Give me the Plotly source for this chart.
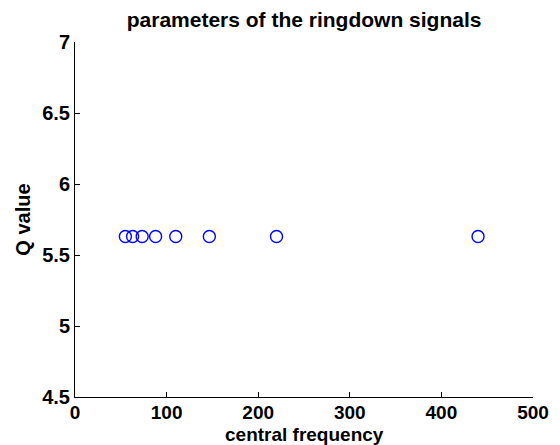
import plotly.graph_objects as go

# Ringdown signal parameters: central frequencies (harmonic series of 440) and Q values
central_frequency = [440.0, 220.0, 146.67, 110.0, 88.0, 73.33, 62.86, 55.0]
q_value = [5.63, 5.63, 5.63, 5.63, 5.63, 5.63, 5.63, 5.63]

x_ticks = [0, 100, 200, 300, 400, 500]
y_ticks = [4.5, 5, 5.5, 6, 6.5, 7]

font_family = "Liberation Sans, Arial, Helvetica, sans-serif"

fig = go.Figure(
    go.Scatter(
        x=central_frequency,
        y=q_value,
        mode="markers",
        marker=dict(
            symbol="circle-open",
            size=12,
            color="#0000ff",
            line=dict(width=1.4, color="#0000ff"),
        ),
        showlegend=False,
    )
)

axis_common = dict(
    showgrid=False,
    zeroline=False,
    showline=True,
    linecolor="black",
    linewidth=1,
    ticks="inside",
    ticklen=5,
    tickwidth=1,
    tickcolor="black",
    tickfont=dict(family=font_family, size=20, color="black", weight="bold"),
    mirror=False,
    automargin=False,
)

fig.update_xaxes(
    range=[0, 500],
    tickvals=x_ticks,
    ticktext=[str(v) for v in x_ticks],
    ticklabelstandoff=-2,
    **{**axis_common, "tickfont": dict(family=font_family, size=19, color="black", weight="bold")},
)
fig.update_yaxes(
    range=[4.5, 7],
    tickvals=y_ticks,
    ticktext=["4.5", "5", "5.5", "6", "6.5", "7"],
    ticklabelstandoff=0,
    title=dict(
        text="<b>Q value</b>",
        font=dict(family=font_family, size=20, color="black"),
        standoff=6,
    ),
    **axis_common,
)

# x-axis title placed as an annotation so it sits tight under the tick labels
fig.add_annotation(
    text="<b>central frequency</b>",
    xref="x domain",
    yref="paper",
    x=0.5,
    y=0,
    xanchor="center",
    yanchor="bottom",
    yshift=-49,
    showarrow=False,
    borderpad=0,
    font=dict(family=font_family, size=19, color="black"),
)

fig.update_layout(
    width=560,
    height=445,
    paper_bgcolor="white",
    plot_bgcolor="white",
    margin=dict(l=75, r=27, t=42, b=48),
    title=dict(
        text="<b>parameters of the ringdown signals</b>",
        font=dict(family=font_family, size=21, color="black"),
        x=0.543,
        xanchor="center",
        y=1 - 20 / 445,
        yanchor="middle",
    ),
)

fig.write_html("out.html")
